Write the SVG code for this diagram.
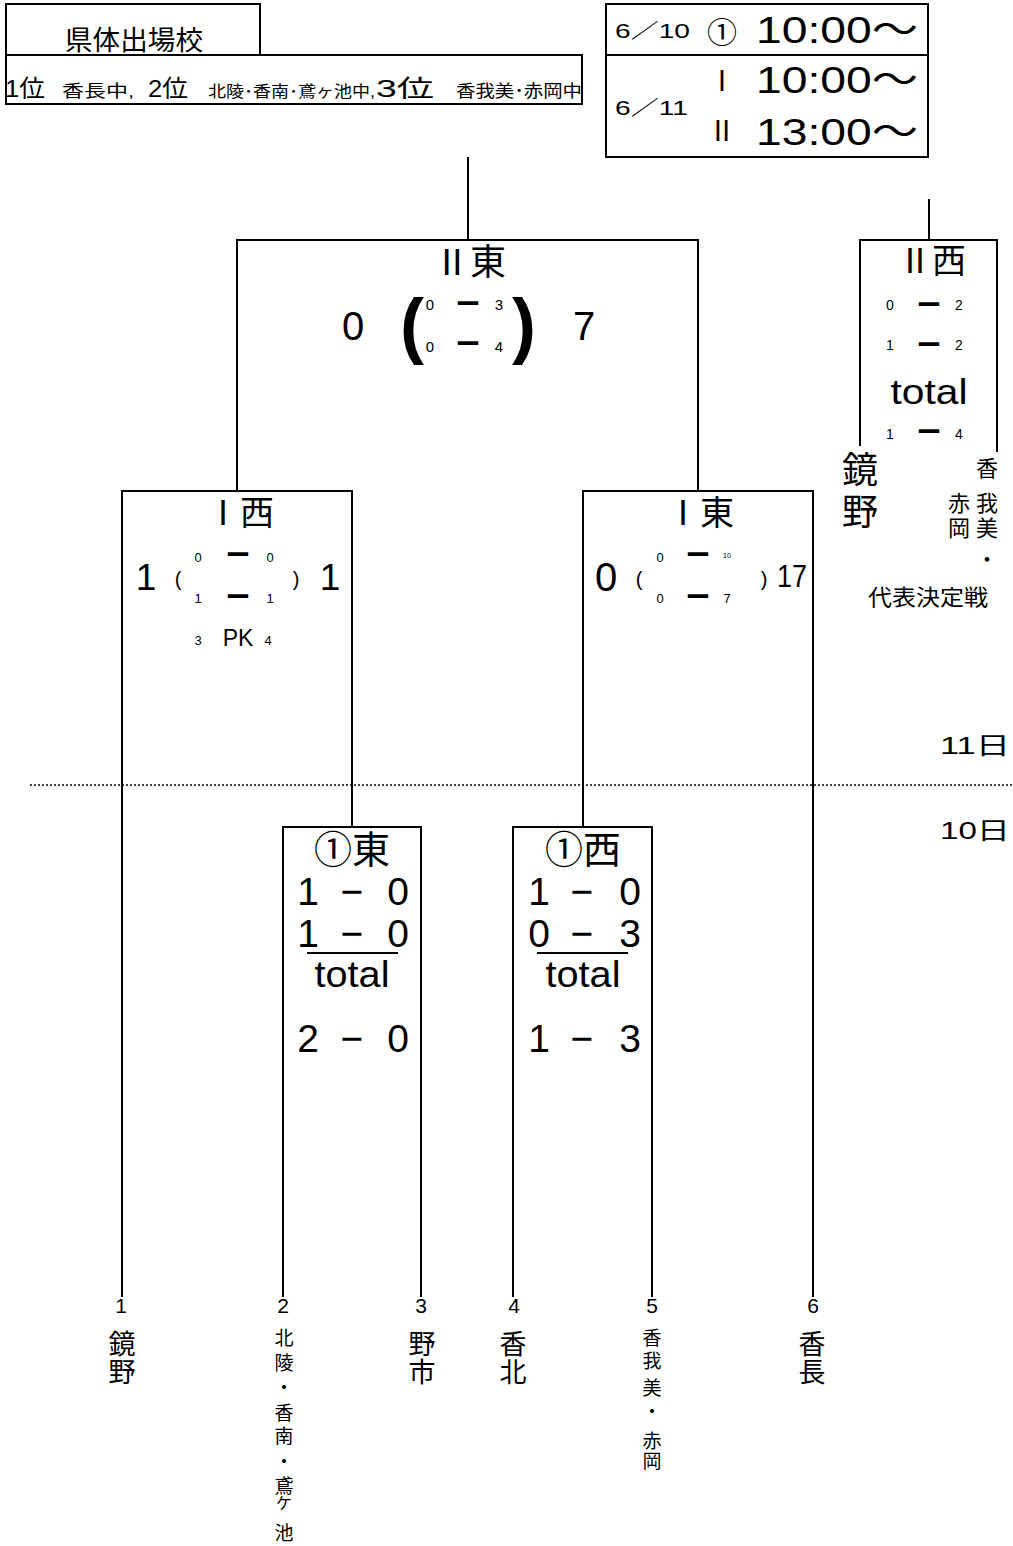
<svg xmlns="http://www.w3.org/2000/svg" width="1013" height="1546" viewBox="0 0 1013 1546">
<style>
text{font-family:"Liberation Sans","Noto Sans CJK JP",sans-serif;fill:#000}
.j{font-family:"Noto Sans CJK JP",sans-serif}
.c{text-anchor:middle}
.d{font-family:"Noto Sans CJK JP",sans-serif;font-weight:bold;text-anchor:middle;font-size:25px}
.ln{stroke:#000;stroke-width:2;fill:none}
.bx{stroke:#000;stroke-width:2;fill:#fff}
</style>
<rect width="1013" height="1546" fill="#fff"/>
<g id="info-left">
<rect class="bx" x="6" y="4" width="254" height="51"/>
<rect class="bx" x="6" y="55" width="576" height="49"/>
<text class="j" x="65" y="50" font-size="27" textLength="138" lengthAdjust="spacingAndGlyphs">県体出場校</text>
<text x="5" y="97" font-size="24" textLength="40" lengthAdjust="spacingAndGlyphs">1位</text>
<text x="62" y="97" font-size="17" textLength="72" lengthAdjust="spacingAndGlyphs">香長中,</text>
<text x="148" y="97" font-size="24" textLength="40" lengthAdjust="spacingAndGlyphs">2位</text>
<text x="208" y="97" font-size="16" textLength="167" lengthAdjust="spacingAndGlyphs">北陵･香南･鳶ヶ池中,</text>
<text x="376" y="97" font-size="24" textLength="58" lengthAdjust="spacingAndGlyphs">3位</text>
<text x="456" y="97" font-size="17" textLength="126" lengthAdjust="spacingAndGlyphs">香我美･赤岡中</text>
</g>
<g id="info-right">
<rect class="bx" x="606" y="4" width="322" height="153"/>
<line class="ln" x1="606" y1="55" x2="928" y2="55"/>
<text x="615" y="38" font-size="20" textLength="75" lengthAdjust="spacingAndGlyphs">6／10</text>
<text class="j c" x="722" y="43" font-size="30">①</text>
<text x="756" y="43" font-size="37" textLength="162" lengthAdjust="spacingAndGlyphs">10:00～</text>
<text class="j c" x="722" y="91" font-size="28">Ⅰ</text>
<text x="756" y="93" font-size="37" textLength="162" lengthAdjust="spacingAndGlyphs">10:00～</text>
<text x="615" y="115" font-size="20" textLength="73" lengthAdjust="spacingAndGlyphs">6／11</text>
<text class="j c" x="722" y="141" font-size="28">Ⅱ</text>
<text x="756" y="145" font-size="37" textLength="162" lengthAdjust="spacingAndGlyphs">13:00～</text>
</g>
<g id="connectors">
<path class="ln" d="M468 157V240M237 491V240H698V491"/>
<path class="ln" d="M122 1297V491H352V827"/>
<path class="ln" d="M583 827V491H813V1297"/>
<path class="ln" d="M283 1297V827H421V1297"/>
<path class="ln" d="M513 1297V827H652V1297"/>
<path class="ln" d="M929 199V240M860 446V240H997V452"/>
<line x1="30" y1="785" x2="1013" y2="785" stroke="#000" stroke-width="1.5" stroke-dasharray="2,2"/>
<line class="ln" x1="307" y1="953" x2="398" y2="953" stroke-width="1.5"/>
<line class="ln" x1="537" y1="953" x2="628" y2="953" stroke-width="1.5"/>
</g>
<g id="m-II-east">
<text class="j c" x="470" y="275" font-size="36">Ⅱ東</text>
<text class="c" x="353" y="340" font-size="40">0</text>
<text class="c" x="412" y="350" font-size="72" font-weight="bold">(</text>
<text class="c" x="430" y="310" font-size="15">0</text>
<text class="d" x="468" y="313">ー</text>
<text class="c" x="499" y="310" font-size="15">3</text>
<text class="c" x="430" y="352" font-size="15">0</text>
<text class="d" x="468" y="353">ー</text>
<text class="c" x="499" y="352" font-size="15">4</text>
<text class="c" x="524" y="350" font-size="72" font-weight="bold">)</text>
<text class="c" x="584" y="340" font-size="40">7</text>
</g>
<g id="m-II-west">
<text class="j c" x="932" y="273" font-size="34">Ⅱ西</text>
<text class="c" x="890" y="310" font-size="14">0</text>
<text class="d" x="929" y="314">ー</text>
<text class="c" x="959" y="310" font-size="14">2</text>
<text class="c" x="890" y="350" font-size="14">1</text>
<text class="d" x="929" y="354">ー</text>
<text class="c" x="959" y="350" font-size="14">2</text>
<text class="c" x="929" y="404" font-size="35" textLength="77" lengthAdjust="spacingAndGlyphs">total</text>
<text class="c" x="890" y="439" font-size="14">1</text>
<text class="d" x="929" y="441">ー</text>
<text class="c" x="959" y="439" font-size="14">4</text>
<text class="c" x="860" y="483" font-size="36">鏡</text>
<text class="c" x="860" y="525" font-size="36">野</text>
<text class="c" x="987" y="476" font-size="22">香</text>
<text class="c" x="987" y="511" font-size="22">我</text>
<text class="c" x="987" y="536" font-size="22">美</text>
<text class="c" x="987" y="567" font-size="22">・</text>
<text class="c" x="959" y="511" font-size="22">赤</text>
<text class="c" x="959" y="536" font-size="22">岡</text>
<text class="c" x="928" y="605" font-size="22" textLength="120" lengthAdjust="spacingAndGlyphs">代表決定戦</text>
</g>
<g id="m-I-west">
<text class="j c" x="240" y="525" font-size="34">Ⅰ西</text>
<text class="c" x="146" y="590" font-size="37">1</text>
<text class="c" x="178" y="586" font-size="20">(</text>
<text class="c" x="198" y="562" font-size="13">0</text>
<text class="d" x="238" y="564">ー</text>
<text class="c" x="270" y="562" font-size="13">0</text>
<text class="c" x="198" y="603" font-size="13">1</text>
<text class="d" x="238" y="606">ー</text>
<text class="c" x="270" y="603" font-size="13">1</text>
<text class="c" x="296" y="586" font-size="20">)</text>
<text class="c" x="330" y="590" font-size="37">1</text>
<text class="c" x="198" y="645" font-size="13">3</text>
<text class="c" x="238" y="646" font-size="23">PK</text>
<text class="c" x="268" y="645" font-size="13">4</text>
</g>
<g id="m-I-east">
<text class="j c" x="700" y="525" font-size="34">Ⅰ東</text>
<text class="c" x="606" y="591" font-size="40">0</text>
<text class="c" x="639" y="586" font-size="20">(</text>
<text class="c" x="660" y="562" font-size="13">0</text>
<text class="d" x="698" y="564">ー</text>
<text class="c" x="727" y="558" font-size="7">10</text>
<text class="c" x="660" y="603" font-size="13">0</text>
<text class="d" x="698" y="606">ー</text>
<text class="c" x="727" y="603" font-size="13">7</text>
<text class="c" x="764" y="586" font-size="20">)</text>
<text class="c" x="792" y="587" font-size="31" textLength="30" lengthAdjust="spacingAndGlyphs">17</text>
</g>
<g id="days">
<text x="940" y="754" font-size="24" textLength="70" lengthAdjust="spacingAndGlyphs">11日</text>
<text x="940" y="839" font-size="24" textLength="70" lengthAdjust="spacingAndGlyphs">10日</text>
</g>
<g id="m-1-east">
<text class="j c" x="352" y="863" font-size="38">①東</text>
<text class="c" x="308" y="905" font-size="39">1</text>
<text class="c" x="352" y="905" font-size="39">−</text>
<text class="c" x="398" y="905" font-size="39">0</text>
<text class="c" x="308" y="947" font-size="39">1</text>
<text class="c" x="352" y="947" font-size="39">−</text>
<text class="c" x="398" y="947" font-size="39">0</text>
<text class="c" x="352" y="987" font-size="36" textLength="75" lengthAdjust="spacingAndGlyphs">total</text>
<text class="c" x="308" y="1052" font-size="39">2</text>
<text class="c" x="352" y="1052" font-size="39">−</text>
<text class="c" x="398" y="1052" font-size="39">0</text>
</g>
<g id="m-1-west">
<text class="j c" x="583" y="863" font-size="38">①西</text>
<text class="c" x="539" y="905" font-size="39">1</text>
<text class="c" x="582" y="905" font-size="39">−</text>
<text class="c" x="630" y="905" font-size="39">0</text>
<text class="c" x="539" y="947" font-size="39">0</text>
<text class="c" x="582" y="947" font-size="39">−</text>
<text class="c" x="630" y="947" font-size="39">3</text>
<text class="c" x="583" y="987" font-size="36" textLength="75" lengthAdjust="spacingAndGlyphs">total</text>
<text class="c" x="539" y="1052" font-size="39">1</text>
<text class="c" x="582" y="1052" font-size="39">−</text>
<text class="c" x="630" y="1052" font-size="39">3</text>
</g>
<g id="team-1">
<text class="c" x="121" y="1313" font-size="21">1</text>
<text class="c" x="122" y="1354" font-size="27">鏡</text>
<text class="c" x="122" y="1382" font-size="27">野</text>
</g>
<g id="team-2">
<text class="c" x="283" y="1313" font-size="21">2</text>
<text class="c" x="284" y="1345" font-size="19">北</text>
<text class="c" x="284" y="1370" font-size="19">陵</text>
<text class="c" x="284" y="1395" font-size="19">・</text>
<text class="c" x="284" y="1420" font-size="19">香</text>
<text class="c" x="284" y="1443" font-size="19">南</text>
<text class="c" x="284" y="1469" font-size="19">・</text>
<text class="c" x="284" y="1493" font-size="19">鳶</text>
<text class="c" x="284" y="1509" font-size="16">ケ</text>
<text class="c" x="284" y="1540" font-size="19">池</text>
</g>
<g id="team-3">
<text class="c" x="421" y="1313" font-size="21">3</text>
<text class="c" x="422" y="1354" font-size="27">野</text>
<text class="c" x="422" y="1382" font-size="27">市</text>
</g>
<g id="team-4">
<text class="c" x="514" y="1313" font-size="21">4</text>
<text class="c" x="513" y="1354" font-size="27">香</text>
<text class="c" x="513" y="1382" font-size="27">北</text>
</g>
<g id="team-5">
<text class="c" x="652" y="1313" font-size="21">5</text>
<text class="c" x="652" y="1345" font-size="19">香</text>
<text class="c" x="652" y="1368" font-size="19">我</text>
<text class="c" x="652" y="1395" font-size="19">美</text>
<text class="c" x="652" y="1419" font-size="19">・</text>
<text class="c" x="652" y="1448" font-size="19">赤</text>
<text class="c" x="652" y="1468" font-size="19">岡</text>
</g>
<g id="team-6">
<text class="c" x="813" y="1313" font-size="21">6</text>
<text class="c" x="812" y="1354" font-size="27">香</text>
<text class="c" x="812" y="1382" font-size="27">長</text>
</g>
</svg>
